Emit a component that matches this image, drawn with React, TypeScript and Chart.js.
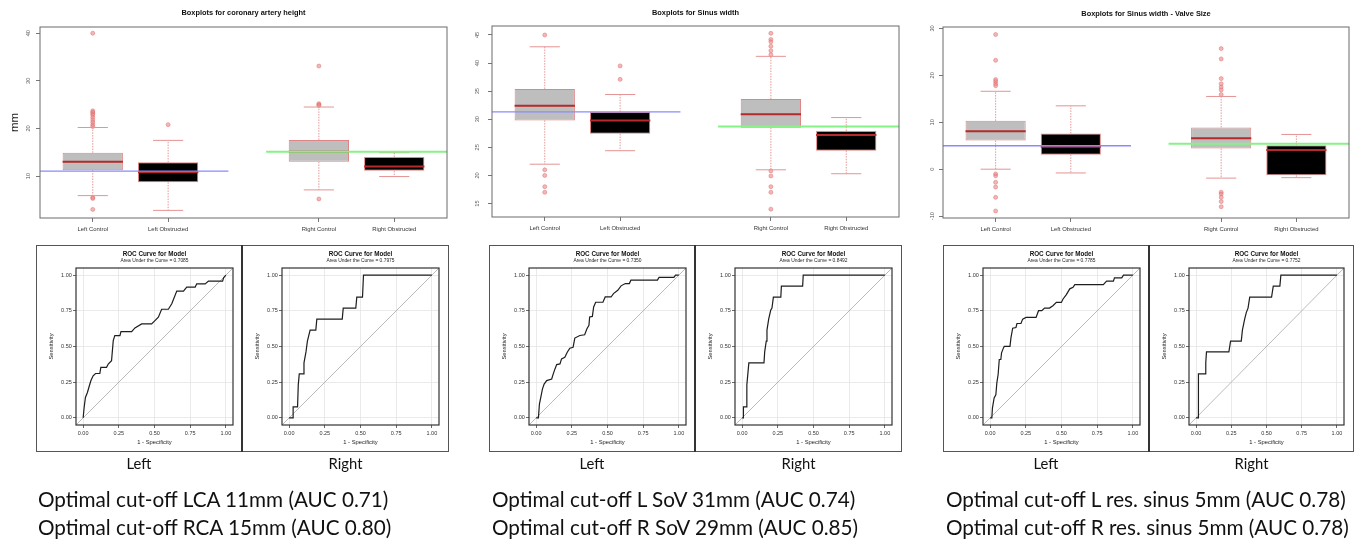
import React, { useEffect, useRef } from 'react';
import { Chart, registerables } from 'chart.js';

Chart.register(...registerables);

// ---------- Boxplot data ----------
const categories = ['Left Control', 'Left Obstructed', 'Right Control', 'Right Obstructed'];
const positions = [1, 2, 4, 5];
const xRange = [0.3, 5.7];
const leftCutoffSpan = [0.3, 2.8];
const rightCutoffSpan = [3.3, 5.7];

// Coronary artery height
const heightQ1 = [11.2, 8.7, 13.0, 11.1];
const heightMedian = [13.0, 10.8, 15.1, 12.0];
const heightQ3 = [14.9, 12.9, 17.6, 14.0];
const heightLow = [5.9, 2.8, 7.1, 9.9];
const heightHigh = [20.2, 17.5, 24.5, 14.9];
const heightOutliers = [
  [40.0, 23.7, 23.4, 23.1, 22.8, 22.3, 21.8, 21.3, 20.8, 20.4, 5.5, 5.3, 3.0],
  [20.8],
  [33.1, 25.2, 25.0, 24.8, 5.2],
  [],
];
const heightCutoffs = [11.05, 15.1];
const heightTicks = [10, 20, 30, 40];
const heightRange = [1.2, 41.3];

// Sinus width
const sinusQ1 = [29.8, 27.4, 28.5, 24.4];
const sinusMedian = [32.4, 29.8, 30.9, 27.2];
const sinusQ3 = [35.4, 31.3, 33.6, 27.9];
const sinusLow = [22.0, 24.4, 21.0, 20.3];
const sinusHigh = [42.9, 34.4, 41.2, 30.3];
const sinusOutliers = [
  [45.0, 21.0, 20.0, 18.0, 17.0],
  [39.5, 37.1],
  [45.3, 44.2, 43.8, 43.0, 42.2, 41.5, 20.8, 19.9, 18.0, 17.0, 14.0],
  [],
];
const sinusCutoffs = [31.3, 28.7];
const sinusTicks = [15, 20, 25, 30, 35, 40, 45];
const sinusRange = [12.6, 46.6];

// Sinus width - valve size
const resQ1 = [6.1, 3.1, 4.4, -1.3];
const resMedian = [8.1, 4.8, 6.6, 4.1];
const resQ3 = [10.3, 7.6, 8.9, 5.1];
const resLow = [0.0, -0.8, -1.9, -1.8];
const resHigh = [16.6, 13.5, 15.5, 7.4];
const resOutliers = [
  [28.7, 23.2, 19.1, 18.7, 18.2, 17.8, -1.0, -1.4, -2.8, -3.8, -6.0, -8.9],
  [],
  [25.7, 23.5, 19.3, 18.2, 17.5, 16.9, 15.9, -4.9, -5.3, -6.0, -6.9, -8.0],
  [],
];
const resCutoffs = [5.0, 5.4];
const resTicks = [-10, 0, 10, 20, 30];
const resRange = [-10.4, 30.3];

// ---------- ROC data ----------
const lcaFpr = [0, 0.007, 0.016, 0.030, 0.040, 0.054, 0.070, 0.087, 0.117, 0.124, 0.164, 0.176, 0.199, 0.211, 0.222, 0.258, 0.265, 0.340, 0.363, 0.410, 0.480, 0.503, 0.527, 0.550, 0.597, 0.621, 0.656, 0.703, 0.726, 0.785, 0.796, 0.855, 0.878, 0.977, 0.984, 1];
const lcaTpr = [0, 0.073, 0.143, 0.178, 0.213, 0.260, 0.295, 0.311, 0.311, 0.354, 0.354, 0.377, 0.400, 0.541, 0.576, 0.576, 0.604, 0.604, 0.630, 0.658, 0.658, 0.681, 0.705, 0.761, 0.761, 0.799, 0.888, 0.888, 0.916, 0.916, 0.939, 0.939, 0.958, 0.958, 0.981, 1];
const rcaFpr = [0, 0.028, 0.028, 0.059, 0.064, 0.071, 0.100, 0.104, 0.118, 0.128, 0.147, 0.187, 0.194, 0.372, 0.379, 0.467, 0.474, 0.514, 0.521, 1];
const rcaTpr = [0, 0, 0.077, 0.077, 0.231, 0.308, 0.308, 0.385, 0.462, 0.538, 0.615, 0.615, 0.692, 0.692, 0.769, 0.769, 0.846, 0.846, 1, 1];
const lSovFpr = [0, 0.016, 0.023, 0.035, 0.044, 0.056, 0.074, 0.109, 0.120, 0.132, 0.144, 0.167, 0.178, 0.201, 0.218, 0.236, 0.259, 0.271, 0.306, 0.340, 0.356, 0.370, 0.375, 0.394, 0.403, 0.417, 0.468, 0.484, 0.525, 0.542, 0.572, 0.595, 0.625, 0.653, 0.664, 0.850, 0.861, 0.965, 0.977, 1];
const lSovTpr = [0, 0, 0.096, 0.155, 0.202, 0.237, 0.261, 0.272, 0.308, 0.343, 0.373, 0.378, 0.413, 0.425, 0.460, 0.488, 0.495, 0.559, 0.577, 0.582, 0.624, 0.648, 0.707, 0.711, 0.777, 0.810, 0.810, 0.847, 0.847, 0.871, 0.894, 0.925, 0.941, 0.941, 0.965, 0.965, 0.984, 0.984, 1, 1];
const rSovFpr = [0, 0.009, 0.009, 0.028, 0.033, 0.040, 0.047, 0.153, 0.158, 0.169, 0.174, 0.186, 0.200, 0.209, 0.219, 0.271, 0.275, 0.424, 0.428, 1];
const rSovTpr = [0, 0, 0.077, 0.077, 0.231, 0.308, 0.385, 0.385, 0.462, 0.538, 0.615, 0.692, 0.754, 0.769, 0.846, 0.846, 0.923, 0.923, 1, 1];
const lResFpr = [0, 0.012, 0.016, 0.028, 0.040, 0.047, 0.056, 0.064, 0.075, 0.080, 0.094, 0.099, 0.139, 0.146, 0.158, 0.181, 0.188, 0.216, 0.228, 0.252, 0.322, 0.339, 0.362, 0.381, 0.416, 0.440, 0.464, 0.499, 0.511, 0.534, 0.558, 0.581, 0.593, 0.793, 0.816, 0.864, 0.871, 0.922, 0.934, 1];
const lResTpr = [0, 0, 0.068, 0.139, 0.162, 0.245, 0.304, 0.409, 0.409, 0.456, 0.492, 0.501, 0.501, 0.562, 0.628, 0.633, 0.661, 0.661, 0.692, 0.704, 0.704, 0.751, 0.751, 0.769, 0.769, 0.786, 0.809, 0.809, 0.833, 0.864, 0.904, 0.915, 0.934, 0.934, 0.958, 0.958, 0.981, 0.981, 1, 1];
const rResFpr = [0, 0.017, 0.017, 0.064, 0.069, 0.074, 0.233, 0.245, 0.321, 0.329, 0.345, 0.357, 0.369, 0.381, 0.536, 0.548, 0.595, 0.602, 1];
const rResTpr = [0, 0, 0.308, 0.308, 0.385, 0.462, 0.462, 0.538, 0.538, 0.615, 0.692, 0.739, 0.769, 0.846, 0.846, 0.923, 0.923, 1, 1];
const aucLabels = ['0.7085', '0.7975', '0.7350', '0.8492', '0.7785', '0.7752'];
const rocTicks = [0, 0.25, 0.5, 0.75, 1];
const rocRange = [-0.05, 1.05];
const rocDiagonal = [-0.05, 1.05];

const captionLines = [
  ['Optimal cut-off LCA 11mm (AUC 0.71)', 'Optimal cut-off RCA 15mm (AUC 0.80)'],
  ['Optimal cut-off L SoV 31mm (AUC 0.74)', 'Optimal cut-off R SoV 29mm (AUC 0.85)'],
  ['Optimal cut-off L res. sinus 5mm (AUC 0.78)', 'Optimal cut-off R res. sinus 5mm (AUC 0.78)'],
];

// ---------- styling / layout ----------
const FONT = '"Liberation Sans", Arial, Helvetica, sans-serif';
const BOX_HALF = 0.4;
const CAP_HALF = 0.2;

const framePlugin = {
  id: 'frame',
  afterDatasetsDraw(chart: any, _args: any, opts: any) {
    if (!opts || !opts.color) return;
    const { ctx, chartArea: a } = chart;
    ctx.save();
    ctx.strokeStyle = opts.color;
    ctx.lineWidth = opts.width || 1;
    ctx.strokeRect(a.left, a.top, a.right - a.left, a.bottom - a.top);
    ctx.restore();
  },
};
Chart.register(framePlugin);

type BoxPanel = {
  title: string;
  q1: number[]; median: number[]; q3: number[]; low: number[]; high: number[];
  outliers: number[][]; cutoffs: number[]; ticks: number[]; range: number[];
  yTitle?: string;
  left: number; yWidth: number; right: number; titleTop: number; titleBottom: number; xHeight: number; tickPad: number;
};

const boxPanels: BoxPanel[] = [
  { title: 'Boxplots for coronary artery height', q1: heightQ1, median: heightMedian, q3: heightQ3, low: heightLow, high: heightHigh,
    outliers: heightOutliers, cutoffs: heightCutoffs, ticks: heightTicks, range: heightRange, yTitle: 'mm',
    left: 0, yWidth: 40, right: 9, titleTop: 9.0, titleBottom: 10.6, xHeight: 22, tickPad: 4.2 },
  { title: 'Boxplots for Sinus width', q1: sinusQ1, median: sinusMedian, q3: sinusQ3, low: sinusLow, high: sinusHigh,
    outliers: sinusOutliers, cutoffs: sinusCutoffs, ticks: sinusTicks, range: sinusRange,
    left: 456, yWidth: 36, right: 13, titleTop: 9.0, titleBottom: 9.6, xHeight: 23, tickPad: 7.2 },
  { title: 'Boxplots for Sinus width - Valve Size', q1: resQ1, median: resMedian, q3: resQ3, low: resLow, high: resHigh,
    outliers: resOutliers, cutoffs: resCutoffs, ticks: resTicks, range: resRange,
    left: 912, yWidth: 31, right: 19, titleTop: 10.6, titleBottom: 9.0, xHeight: 22, tickPad: 2.9 },
];

function boxplotConfig(p: BoxPanel): any {
  const med: any[] = [];
  const whisk: any[] = [];
  const caps: any[] = [];
  const outl: any[] = [];
  positions.forEach((x, i) => {
    med.push({ x: x - BOX_HALF, y: p.median[i] }, { x: x + BOX_HALF, y: p.median[i] }, { x, y: null });
    whisk.push({ x, y: p.q3[i] }, { x, y: p.high[i] }, { x, y: null }, { x, y: p.q1[i] }, { x, y: p.low[i] }, { x, y: null });
    caps.push({ x: x - CAP_HALF, y: p.high[i] }, { x: x + CAP_HALF, y: p.high[i] }, { x, y: null },
      { x: x - CAP_HALF, y: p.low[i] }, { x: x + CAP_HALF, y: p.low[i] }, { x, y: null });
    p.outliers[i].forEach((v) => outl.push({ x, y: v }));
  });
  const lineBase = { type: 'line', pointRadius: 0, tension: 0, fill: false, spanGaps: false };
  return {
    type: 'bar',
    data: {
      datasets: [
        { ...lineBase, data: [{ x: xRange[0], y: p.cutoffs[0] }, { x: leftCutoffSpan[1], y: p.cutoffs[0] }], borderColor: '#8a8aff', borderWidth: 1.3, order: 0 },
        { ...lineBase, data: [{ x: rightCutoffSpan[0], y: p.cutoffs[1] }, { x: xRange[1], y: p.cutoffs[1] }], borderColor: '#86f286', borderWidth: 2, order: 0 },
        { ...lineBase, data: med, borderColor: '#b52a2a', borderWidth: 2, order: 1 },
        { type: 'bar', data: positions.map((x, i) => ({ x, y: [p.q1[i], p.q3[i]] })),
          backgroundColor: ['#bebebe', '#000000', '#bebebe', '#000000'], borderColor: '#e08585', borderWidth: 1,
          borderSkipped: false, categoryPercentage: 1, barPercentage: 2 * BOX_HALF, order: 2 },
        { ...lineBase, data: caps, borderColor: '#e59393', borderWidth: 1, order: 3 },
        { ...lineBase, data: whisk, borderColor: '#e69797', borderWidth: 1, borderDash: [1.5, 1.2], order: 4 },
        { type: 'scatter', data: outl, pointRadius: 2, pointBackgroundColor: 'rgba(236,135,135,0.6)',
          pointBorderColor: 'rgba(222,105,105,0.6)', pointBorderWidth: 0.8, order: 5 },
      ],
    },
    options: {
      animation: false, responsive: true, maintainAspectRatio: false, events: [],
      layout: { padding: { left: 0, right: p.right, top: 0, bottom: 0 } },
      plugins: {
        legend: { display: false }, tooltip: { enabled: false },
        title: { display: true, text: p.title, fullSize: false, color: '#111',
          font: { family: FONT, size: 7.4, weight: 'bold', lineHeight: 1 },
          padding: { top: p.titleTop, bottom: p.titleBottom } },
        frame: { color: '#6a6a6a', width: 1 },
      },
      scales: {
        x: {
          type: 'linear', min: xRange[0], max: xRange[1], offset: false,
          afterBuildTicks: (s: any) => { s.ticks = positions.map((v) => ({ value: v })); },
          afterFit: (s: any) => { s.height = p.xHeight; },
          ticks: { autoSkip: false, minRotation: 0, maxRotation: 0, padding: 3.5, color: '#333',
            font: { family: FONT, size: 5.9 }, callback: (_v: any, i: number) => categories[i] },
          grid: { drawOnChartArea: false, tickLength: 4, tickColor: '#777', offset: false },
          border: { display: false },
        },
        y: {
          type: 'linear', min: p.range[0], max: p.range[1],
          afterBuildTicks: (s: any) => { s.ticks = p.ticks.map((v) => ({ value: v })); },
          afterFit: (s: any) => { s.width = p.yWidth; },
          ticks: { minRotation: 90, maxRotation: 90, crossAlign: 'center', padding: p.tickPad, color: '#555',
            font: { family: FONT, size: 5.6 } },
          grid: { drawOnChartArea: false, tickLength: 4, tickColor: '#777' },
          border: { display: false },
          title: { display: !!p.yTitle, text: p.yTitle || '', color: '#222', font: { family: FONT, size: 11.5 },
            padding: { top: 7.6, bottom: 0 } },
        },
      },
    },
  };
}

function rocConfig(fpr: number[], tpr: number[], auc: string, rightPad: number): any {
  return {
    type: 'line',
    data: {
      datasets: [
        { data: fpr.map((x, i) => ({ x, y: tpr[i] })), borderColor: '#1e1e1e', borderWidth: 1.2, pointRadius: 0, tension: 0, fill: false, order: 0 },
        { data: rocDiagonal.map((v) => ({ x: v, y: v })), borderColor: '#aaaaaa', borderWidth: 0.8, pointRadius: 0, tension: 0, fill: false, order: 1 },
      ],
    },
    options: {
      animation: false, responsive: true, maintainAspectRatio: false, events: [],
      layout: { padding: { left: 0, right: rightPad, top: 0, bottom: 0 } },
      plugins: {
        legend: { display: false }, tooltip: { enabled: false },
        title: { display: true, text: 'ROC Curve for Model', fullSize: false, color: '#111',
          font: { family: FONT, size: 6.3, weight: 'bold', lineHeight: 1 }, padding: { top: 5.9, bottom: 0 } },
        subtitle: { display: true, text: 'Area Under the Curve = ' + auc, fullSize: false, color: '#222',
          font: { family: FONT, size: 4.9, lineHeight: 1 }, padding: { top: 1.5, bottom: 4.4 } },
        frame: { color: '#333', width: 1.2 },
      },
      scales: {
        x: {
          type: 'linear', min: rocRange[0], max: rocRange[1],
          afterBuildTicks: (s: any) => { s.ticks = rocTicks.map((v) => ({ value: v })); },
          afterFit: (s: any) => { s.height = 27; },
          ticks: { autoSkip: false, minRotation: 0, maxRotation: 0, padding: 1.7, color: '#333',
            font: { family: FONT, size: 5.5 }, callback: (v: any) => Number(v).toFixed(2) },
          grid: { color: '#e4e4e4', lineWidth: 0.8, tickLength: 3, tickColor: '#444' },
          border: { display: false },
          title: { display: true, text: '1 - Specificity', color: '#222', font: { family: FONT, size: 5.8 },
            padding: { top: 0, bottom: 6.5 } },
        },
        y: {
          type: 'linear', min: rocRange[0], max: rocRange[1],
          afterBuildTicks: (s: any) => { s.ticks = rocTicks.map((v) => ({ value: v })); },
          afterFit: (s: any) => { s.width = 40; },
          ticks: { padding: 1.2, color: '#333', font: { family: FONT, size: 5.5 },
            callback: (v: any) => Number(v).toFixed(2) },
          grid: { color: '#e4e4e4', lineWidth: 0.8, tickLength: 3, tickColor: '#444' },
          border: { display: false },
          title: { display: true, text: 'Sensitivity', color: '#222', font: { family: FONT, size: 5.8 },
            padding: { top: 11.5, bottom: 0 } },
        },
      },
    },
  };
}

function ChartBox({ left, top, width, height, make }: { left: number; top: number; width: number; height: number; make: () => any }) {
  const ref = useRef<HTMLCanvasElement>(null);
  useEffect(() => {
    const chart = new Chart(ref.current as HTMLCanvasElement, make());
    return () => chart.destroy();
  }, []);
  return (
    <div style={{ position: 'absolute', left, top, width, height }}>
      <canvas ref={ref} />
    </div>
  );
}

const rocGroups = [
  { x: 36, mid: 242, r: 449, cap: 38 },
  { x: 489, mid: 695, r: 902, cap: 492 },
  { x: 943, mid: 1149, r: 1354, cap: 946 },
];
const rocCurves = [
  [lcaFpr, lcaTpr], [rcaFpr, rcaTpr],
  [lSovFpr, lSovTpr], [rSovFpr, rSovTpr],
  [lResFpr, lResTpr], [rResFpr, rResTpr],
];
const ROC_TOP = 245;
const ROC_H = 207;

export default function App() {
  return (
    <div style={{ position: 'absolute', left: 0, top: 0, width: 1368, height: 546, background: '#fff', overflow: 'hidden' }}>
      {boxPanels.map((p, i) => (
        <ChartBox key={'b' + i} left={p.left} top={0} width={456} height={240} make={() => boxplotConfig(p)} />
      ))}
      {rocGroups.map((g, gi) => (
        <React.Fragment key={'g' + gi}>
          <ChartBox left={g.x} top={ROC_TOP} width={g.mid - g.x} height={ROC_H}
            make={() => rocConfig(rocCurves[gi * 2][0], rocCurves[gi * 2][1], aucLabels[gi * 2], 9)} />
          <ChartBox left={g.mid} top={ROC_TOP} width={g.r - g.mid} height={ROC_H}
            make={() => rocConfig(rocCurves[gi * 2 + 1][0], rocCurves[gi * 2 + 1][1], aucLabels[gi * 2 + 1], 10)} />
          <div style={{ position: 'absolute', left: g.x, top: ROC_TOP, width: g.r - g.x, height: ROC_H,
            border: '1px solid #555', boxSizing: 'border-box', pointerEvents: 'none' }} />
          <div style={{ position: 'absolute', left: g.mid - 0.75, top: ROC_TOP, width: 1.5, height: ROC_H, background: '#333' }} />
          <div style={{ position: 'absolute', left: g.x, top: 454, width: g.mid - g.x, height: 18, lineHeight: '18px',
            textAlign: 'center', fontFamily: 'Lato, sans-serif', fontSize: 14.8, color: '#111' }}>Left</div>
          <div style={{ position: 'absolute', left: g.mid, top: 454, width: g.r - g.mid, height: 18, lineHeight: '18px',
            textAlign: 'center', fontFamily: 'Lato, sans-serif', fontSize: 14.8, color: '#111' }}>Right</div>
          <div style={{ position: 'absolute', left: g.cap, top: 485, whiteSpace: 'nowrap', lineHeight: '28px',
            fontFamily: 'Lato, sans-serif', fontSize: 20.7, color: '#111' }}>
            <div>{captionLines[gi][0]}</div>
            <div>{captionLines[gi][1]}</div>
          </div>
        </React.Fragment>
      ))}
    </div>
  );
}
